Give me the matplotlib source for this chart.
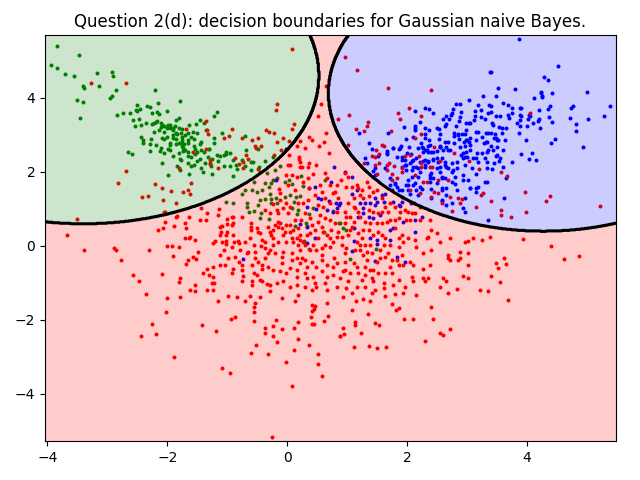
import numpy as np
import matplotlib
matplotlib.use("Agg")
import matplotlib.pyplot as plt

# points, (x, y)
green_points = [
(-3.84,5.39),(-3.47,5.16),(-3.94,4.90),(-3.84,4.80),(-3.70,4.65),(-3.56,4.60),(-3.18,4.67),(-2.92,4.71),(-2.90,4.59),
(-3.40,4.31),(-3.39,4.27),(-3.14,4.32),(-2.86,4.22),(-2.20,4.22),(-2.95,4.01),(-2.92,4.04),(-3.50,3.94),(-3.40,3.88),
(-3.45,3.46),(-2.15,3.87),(-1.78,3.91),(-2.50,3.82),(-2.33,3.77),(-2.29,3.76),(-2.52,3.68),(-2.50,3.66),(-2.45,3.70),
(-2.26,3.60),(-2.17,3.63),(-2.13,3.57),(-2.01,3.64),(-2.73,3.60),(-2.83,3.54),(-2.62,3.58),(-2.57,3.41),(-2.47,3.43),
(-2.54,3.23),(-2.44,3.28),(-2.35,3.33),(-2.26,3.29),(-2.22,3.32),(-2.19,3.35),(-2.17,3.37),(-2.10,3.31),(-2.08,3.28),
(-2.10,3.22),(-1.99,3.27),(-2.01,3.20),(-1.96,3.20),(-1.99,3.23),(-1.91,3.13),(-1.87,3.24),(-1.81,3.19),(-1.85,3.41),
(-1.81,3.47),(-1.64,3.28),(-2.22,3.09),(-2.14,3.14),(-2.06,3.09),(-1.85,3.06),(-1.83,3.02),(-1.77,3.04),(-1.66,3.05),
(-2.44,2.95),(-2.27,2.90),(-2.40,2.85),(-2.40,2.79),(-2.28,2.76),(-2.08,2.93),(-2.06,2.90),(-1.90,2.91),(-1.86,2.88),
(-1.75,2.95),(-1.75,2.86),(-1.65,2.85),(-1.76,2.79),(-1.65,2.78),(-1.95,2.77),(-1.95,2.73),(-1.85,2.75),(-1.80,2.77),
(-1.72,2.75),(-2.18,2.72),(-2.11,2.66),(-2.12,2.56),(-2.29,2.56),(-1.99,2.61),(-1.95,2.60),(-1.75,2.69),(-1.73,2.64),
(-1.74,2.57),(-1.65,2.55),(-2.66,2.54),(-2.59,2.48),(-2.06,2.50),(-1.91,2.44),(-1.81,2.51),(-1.65,2.43),(-2.09,2.25),
(-1.79,2.35),(-1.77,2.31),(-1.66,2.23),(-1.84,2.15),
(-1.17,3.62),(-1.22,3.50),(-1.46,3.41),(-1.52,3.30),(-1.39,3.33),(-1.57,3.09),(-1.50,3.05),(-1.36,3.14),(-1.22,2.92),
(-1.09,3.05),(-1.44,2.81),(-1.45,2.75),(-1.22,2.78),(-0.71,2.96),(-0.48,2.62),(-0.69,2.59),(-1.55,2.69),(-1.54,2.63),
(-1.43,2.59),(-1.38,2.54),(-1.31,2.63),(-1.30,2.63),(-1.54,2.48),(-1.32,2.40),(-1.17,2.46),(-1.12,2.44),(-1.06,2.45),
(-1.02,2.49),(-1.02,2.55),(-1.50,2.29),(-1.37,2.23),(-1.29,2.25),(-1.06,2.16),(-0.96,2.15),(-0.91,2.31),(-0.76,2.33),
(-0.61,2.27),(-0.57,2.26),(-0.36,2.30),(-0.24,2.40),(-1.44,2.10),(-1.27,2.17),(-0.84,2.08),(-0.47,2.14),(-0.11,2.17),
(-1.99,1.92),(-1.79,2.05),(-1.64,1.95),
(-0.34,1.96),(-0.16,1.83),(-0.23,1.78),(-0.03,1.74),(0.04,1.77),(0.23,1.89),(0.27,1.63),(0.09,1.68),(-0.56,1.74),
(-0.37,1.69),(-0.27,1.69),(-0.30,1.60),(-0.42,1.51),(-0.51,1.47),(-0.59,1.51),(-0.70,1.51),(-0.76,1.41),(-0.28,1.41),
(-0.37,1.26),(-0.26,1.27),(-0.19,1.29),(-0.45,1.24),(-0.48,1.11),(-0.67,1.15),(-0.90,1.15),(-1.02,1.20),(-0.67,1.05),
(-0.03,1.32),(0.05,1.38),(0.15,1.33),(0.22,1.35),(0.11,1.20),(-0.26,1.15),(-0.16,1.15),(-0.63,0.93),(-0.55,0.95),
(-0.44,0.88),(-0.30,0.72),(-0.45,0.75),(0.08,1.02),(0.19,0.97),(0.16,0.87),(0.44,1.02),(0.37,0.87),(0.77,0.95),
(0.13,0.54),(0.32,0.61),(0.33,0.54),(0.62,0.39),(0.87,0.63),(0.29,0.14),(0.37,-0.08),(0.63,1.78),
(0.94,0.48),(0.98,0.43),(1.49,-0.08),(1.05,-0.36),(0.89,0.63),
]

green_dense = [
(-2.05,3.25),(-1.95,3.28),(-1.90,3.18),(-1.75,3.15),(-1.70,3.00),(-1.60,2.95),(-1.90,3.00),(-2.00,2.95),(-1.55,2.90),(-1.70,2.60),
(-1.60,2.40),(-1.55,2.20),(-1.50,2.55),(-1.45,2.35),(-1.25,2.35),(-1.15,2.30),(-0.95,2.50),(-1.60,2.15),(-1.40,2.00),(-1.25,1.95),
(-0.85,2.20),(-0.70,2.15),(-0.60,2.05),(-0.45,2.00),(-0.20,2.05),(-0.90,1.90),
]

blue_points = [
(0.79,2.13),(-0.01,2.63),
(3.38,4.69),(3.27,4.05),(3.04,3.94),(3.19,3.81),(2.82,3.84),(2.89,3.84),(2.77,3.70),(2.75,3.60),(2.66,3.52),(2.73,3.55),
(2.71,3.42),(2.61,3.42),(2.90,3.63),(2.89,3.48),(2.87,3.38),(3.13,3.65),(3.14,3.52),(3.12,3.40),(3.24,3.68),(3.23,3.48),
(3.30,3.43),(3.37,3.81),(3.36,3.59),(2.13,3.66),(2.30,3.73),(2.37,3.69),(2.43,3.59),(2.22,3.36),(1.95,3.22),(2.14,3.25),
(2.13,3.18),(2.13,3.14),(1.68,3.04),(1.20,3.05),(2.66,3.30),(2.64,3.24),(2.82,3.23),(2.99,3.33),(3.03,3.33),(3.06,3.33),
(2.31,3.18),(2.37,3.14),(2.51,3.18),(2.53,3.17),(2.55,3.02),(2.30,3.03),(2.99,3.14),(2.92,3.03),(2.78,3.05),(2.79,2.97),
(2.86,3.02),(2.97,3.02),(3.15,3.07),(3.19,3.09),(3.32,3.04),(3.35,3.06),(2.30,2.91),(2.37,2.86),(2.54,2.88),(1.99,2.89),
(2.11,2.95),(1.37,2.78),(2.63,2.80),(2.69,2.80),(2.79,2.79),(2.87,2.88),(2.95,2.82),(3.01,2.86),(3.04,2.82),(3.16,2.86),
(3.25,2.94),(3.32,2.82),(2.24,2.78),(2.39,2.73),(2.55,2.71),(2.56,2.67),(2.65,2.68),(2.89,2.68),(2.97,2.70),(3.05,2.73),
(3.29,2.78),(3.35,2.60),(1.42,2.62),(1.66,2.56),(1.76,2.64),(1.86,2.63),(1.90,2.69),(2.03,2.67),(2.26,2.67),(2.36,2.69),
(2.30,2.60),(2.27,2.55),(1.30,2.39),(1.52,2.43),(1.67,2.48),(1.84,2.41),(1.92,2.40),(2.01,2.52),(2.07,2.49),(2.34,2.58),
(2.41,2.53),(2.50,2.57),(2.61,2.60),(2.72,2.58),(2.94,2.50),(3.17,2.50),(3.25,2.52),(3.33,2.55),(1.34,2.25),(1.46,2.10),
(1.64,2.10),(1.92,2.31),(2.08,2.30),(2.16,2.37),(2.27,2.30),(2.36,2.30),(2.43,2.34),(2.51,2.37),(2.58,2.37),(2.64,2.28),
(2.75,2.25),(2.83,2.28),(2.94,2.37),(3.00,2.41),(3.10,2.37),(3.19,2.28),(3.33,2.28),(1.99,2.19),(2.11,2.14),(2.19,2.10),
(2.30,2.19),(2.55,2.14),(2.66,2.14),(2.83,2.10),(2.97,2.19),(3.08,2.10),(3.33,2.10),
(3.87,5.59),(4.52,4.87),(3.40,4.69),(4.29,4.57),(4.36,4.48),(3.52,4.26),(3.81,4.24),(3.48,4.05),(4.12,3.99),(4.24,4.16),
(4.24,4.13),(4.25,4.06),(4.26,4.02),(4.43,4.12),(5.01,4.15),(3.61,3.85),(3.68,3.80),(3.75,3.73),(3.88,3.74),(3.91,3.74),
(3.40,3.78),(4.39,3.78),(4.35,3.71),(4.21,3.67),(4.74,3.74),(4.77,3.77),(5.39,3.77),(3.41,3.63),(3.48,3.51),(3.56,3.50),
(3.69,3.54),(3.75,3.59),(3.71,3.45),(3.88,3.55),(3.91,3.50),(3.89,3.40),(4.04,3.55),(4.05,3.50),(4.02,3.44),(4.21,3.43),
(4.19,3.38),(4.37,3.49),(4.43,3.35),(4.73,3.47),(4.83,3.29),(5.03,3.43),(5.29,3.50),(4.83,3.11),(3.42,3.33),(3.43,3.26),
(3.53,3.22),(3.59,3.18),(3.66,3.19),(3.84,3.31),(3.88,3.25),(4.01,3.25),(4.10,3.31),(4.22,3.20),(3.41,3.05),(3.47,3.02),
(3.58,3.05),(3.87,3.05),(3.45,2.91),(3.49,2.93),(3.52,2.85),(3.63,2.86),(3.98,2.87),(4.48,2.90),(4.41,2.78),(4.94,2.68),
(3.41,2.69),(3.43,2.60),(3.51,2.68),(3.61,2.58),(3.90,2.49),(4.08,2.50),(3.48,2.43),(3.50,2.46),(3.56,2.37),(3.53,2.30),
(3.46,2.23),(4.04,2.34),(4.15,2.33),(3.76,2.28),(3.60,2.14),(3.42,2.09),
(-0.19,1.77),(0.36,1.56),(0.47,1.58),(0.51,1.29),(0.56,1.26),(0.70,1.22),(0.82,1.15),(0.86,1.11),(0.66,0.97),(0.34,1.04),
(0.48,0.99),(0.21,0.60),(0.33,0.50),(0.46,0.22),(0.34,0.09),(-0.73,-0.35),(0.74,1.72),(0.76,0.93),(0.83,1.02),
(1.72,1.83),(1.80,1.69),(1.72,1.65),(1.83,1.59),(1.86,1.51),(1.75,1.50),(1.91,1.50),(2.02,1.65),(2.02,1.51),(2.05,1.41),
(2.19,1.87),(2.08,1.87),(2.02,1.78),(2.14,1.69),(2.22,2.01),(2.41,1.96),(2.55,2.01),(2.75,2.01),(2.80,1.86),(2.94,1.92),
(3.16,1.95),(2.39,1.83),(2.50,1.71),(2.58,1.83),(2.80,1.67),(3.05,1.56),(3.19,1.60),(3.33,1.74),(3.02,1.78),(2.16,1.51),
(2.25,1.53),(2.41,1.53),(2.58,1.50),(2.66,1.56),(2.41,1.29),(2.58,1.22),(2.66,1.11),(2.76,1.15),(2.94,1.02),(2.97,0.93),
(3.16,1.47),(1.91,1.33),(1.91,1.20),(1.89,1.08),(2.19,1.38),(2.07,1.15),(3.36,0.70),(3.65,1.83),(3.62,1.30),
(0.89,1.15),(1.08,1.40),(1.16,1.51),(1.22,1.15),(1.30,1.15),(1.27,1.02),(1.39,1.15),(1.47,1.11),(1.47,1.29),(1.58,1.38),
(1.64,1.41),(1.50,1.20),(1.61,1.20),(1.27,0.88),(1.19,0.79),(1.36,0.79),(1.55,0.84),(1.44,0.75),(1.77,1.20),(1.86,1.11),
(1.94,0.66),(2.14,0.70),(2.25,0.79),(1.71,0.43),(1.77,0.48),(2.14,0.37),(1.72,0.16),(1.50,0.16),(1.50,0.05),(1.39,0.21),
(1.11,0.48),(1.11,0.14),(1.08,-0.14),(1.47,-0.40),(1.83,-0.31),(1.97,-0.43),(1.08,1.87),(1.44,2.03),(0.97,2.01),(1.47,1.92),
]

blue_dense = [
(2.22,2.28),(2.30,2.32),(2.36,2.28),(2.44,2.32),(2.52,2.28),(2.11,2.32),(2.05,2.23),(1.97,2.19),(1.99,2.05),(2.08,2.05),
(2.16,2.14),(2.30,2.14),(2.50,2.10),(2.64,2.19),(2.69,2.10),(2.77,2.05),(2.39,1.92),(2.44,1.83),(2.58,1.87),(2.64,1.83),
(2.27,2.64),(2.36,2.55),(2.44,2.55),(2.55,2.68),(2.69,2.59),(2.91,2.46),(2.99,2.55),(3.05,2.59),(2.97,2.41),(3.16,2.37),
(3.30,2.37),(2.86,3.00),(2.99,2.86),(3.05,2.91),(3.33,2.82),(3.50,2.86),(2.19,2.64),(1.89,2.64),(1.77,2.64),(1.66,2.50),
(1.97,2.32),(1.91,2.14),(2.11,1.65),(1.99,1.65),(1.80,1.67),(2.22,1.60),(2.39,1.74),(2.58,1.56),(2.75,1.74),(2.94,1.78),
(3.16,1.56),(3.30,1.74),(3.05,1.56),(2.83,1.51),(2.66,1.38),(2.58,1.24),(2.97,1.29),
]

red_points = [
(-3.27,4.39),(-2.69,4.41),(-1.68,3.16),(-1.80,2.10),
(0.08,5.32),(0.65,4.32),(0.57,3.83),(0.52,3.50),(-0.17,3.84),(-0.19,3.68),(0.85,3.42),(0.12,3.30),(0.09,3.15),(0.65,3.06),
(0.62,2.81),(0.54,2.71),(0.37,2.94),(0.42,2.86),(0.22,2.84),(0.17,2.69),(0.30,2.65),(0.03,2.83),(-0.07,2.91),(-0.17,2.82),
(-0.10,2.60),(-0.21,3.04),(-0.30,3.09),(-0.35,3.14),(-0.43,2.69),(-0.49,2.93),(-0.58,2.87),(-0.54,2.69),(-0.52,2.66),
(-0.75,2.93),(-0.92,3.16),(-0.97,2.97),(-1.05,2.93),(-1.35,3.37),(-1.34,3.12),(-1.32,3.03),(-1.36,2.62),(-1.57,2.55),
(-1.28,2.31),(-1.28,2.22),(-0.87,2.37),(-0.68,2.45),(-0.65,2.34),(-0.73,2.27),(-0.80,2.21),(-0.22,2.47),(-1.15,2.10),
(-0.73,2.10),(-0.48,2.09),(0.03,2.45),(0.20,2.41),(0.20,2.34),(0.22,2.26),(0.02,2.20),(0.05,2.20),(0.37,2.25),(0.49,2.19),
(0.70,2.50),(0.22,2.13),(0.25,2.13),(0.35,2.12),
(0.97,5.11),(1.16,4.76),(1.69,4.26),(2.40,4.21),(2.03,3.74),(1.85,3.59),(1.89,3.43),(2.24,3.52),(1.04,3.54),(1.35,3.35),
(1.34,3.23),(1.29,3.10),(1.15,3.15),(1.73,3.10),(2.24,3.03),(2.13,2.93),(1.02,2.74),(1.58,2.74),(1.61,2.71),(1.49,2.58),
(1.53,2.49),(1.41,2.44),(1.46,2.41),(2.46,2.68),(2.79,2.50),(1.97,2.44),(2.06,2.46),(2.20,2.44),(1.29,2.24),(1.46,2.20),
(1.54,2.25),(1.70,2.25),(1.66,2.18),(1.78,2.17),(2.24,2.23),(2.24,2.14),(2.55,2.29),(3.04,2.29),(1.92,2.11),(2.39,2.13),
(2.42,2.13),(3.21,2.09),(4.06,3.60),
(-2.69,2.03),(-2.82,1.71),(-2.20,1.68),(-2.08,1.56),(-1.93,1.49),(-1.73,1.47),(-1.65,1.50),(-1.62,1.41),(-2.42,1.33),
(-2.32,1.36),(-2.07,1.25),(-1.86,1.17),(-2.06,0.91),(-2.04,0.92),(-1.84,0.82),(-1.86,0.77),(-3.50,0.73),(-1.64,0.77),
(-2.03,0.64),(-1.71,0.62),(-1.89,0.55),(-1.68,0.49),(-2.16,0.44),(-2.07,0.48),(-3.68,0.29),(-1.71,0.22),(-1.63,0.22),
(-3.39,-0.11),(-2.89,-0.05),(-2.85,-0.10),(-2.30,-0.10),(-2.01,0.0),(-1.92,0.01),(-1.80,-0.02),(-2.77,-0.39),(-1.90,-0.26),
(-1.65,-0.37),(-1.69,-0.48),(-2.57,-0.78),(-2.47,-0.94),(-2.08,-0.76),(-1.78,-0.87),(-1.80,-0.98),(-2.35,-1.31),(-2.01,-1.40),
(-1.79,-1.39),(-1.62,-1.20),
(-1.60,1.71),(-1.44,1.02),(-1.33,0.88),(-1.45,0.70),(-1.36,0.70),(-1.14,0.99),(-1.15,0.84),(-1.01,0.73),(-0.92,0.77),
(-0.90,0.79),(-1.09,0.54),(-1.12,0.50),(-1.11,0.39),(-1.12,0.30),(-0.92,0.57),(-0.90,0.61),(-0.76,0.77),(-1.01,0.59),
(-1.01,0.39),(-1.02,0.29),(-1.20,0.13),(-1.24,0.07),(-1.09,0.12),(-1.02,0.14),(-1.02,0.05),(-0.90,0.30),(-0.88,0.12),
(-0.82,0.14),(-0.80,0.07),(-0.92,-0.02),(-0.61,0.61),(-0.61,0.52),(-0.61,0.43),(-0.51,0.48),(-0.48,0.39),(-0.45,0.34),
(-0.70,0.12),(-0.62,0.21),(-0.42,0.16),(-0.44,0.01),(-0.37,-0.06),(-0.31,-0.20),(-0.28,0.39),(-0.23,0.43),(-0.20,0.57),
(-0.15,0.66),(-0.12,0.61),(-0.26,0.30),(-0.23,0.21),(-0.03,0.39),(0.05,0.57),(0.05,0.39),(0.10,0.43),(0.19,0.48),(-0.06,0.30),
(0.08,0.21),(0.16,0.21),(0.22,0.30),(-0.01,1.92),(0.08,1.92),(0.16,1.86),(0.44,1.95),(0.63,1.96),(0.66,1.83),(0.72,1.65),
(-0.13,1.53),(0.13,1.51),(0.36,1.56),(0.47,1.38),(0.58,1.47),(0.80,1.47),(-0.23,1.13),(-0.12,1.24),(-0.01,1.15),(0.27,1.15),
(0.60,1.06),(0.83,0.93),(-0.15,0.88),(0.02,0.88),(0.38,0.75),(0.55,0.84),(0.72,0.70),(0.41,0.57),(0.58,0.52),(0.74,0.43),
(0.83,0.25),(0.72,0.21),(0.52,0.21),(0.33,0.30),(0.27,0.12),(0.19,0.03),(0.22,-0.11),(0.49,-0.11),(0.72,-0.02),(-1.54,0.16),
(-1.62,0.23),(-1.48,-0.15),(-1.57,-0.29),(-1.52,-0.36),(-0.98,-0.33),(-1.04,-0.51),(-1.12,-0.51),(-1.23,-0.58),(-1.34,-0.63),
(-1.40,-0.74),(-1.31,-0.78),(-0.87,-0.31),(-0.81,-0.42),(-0.76,-0.51),(-0.90,-0.63),(-0.92,-0.74),(-0.76,-0.65),(-0.67,-0.20),
(-0.53,-0.15),(-0.53,-0.33),(-0.48,-0.42),(-0.59,-0.51),(-0.42,-0.63),(-0.56,-0.74),(-0.51,-0.78),(-0.31,-0.56),(-0.28,-0.12),
(-0.09,-0.29),(-0.09,-0.47),(-0.12,-0.69),(0.05,-0.60),(0.08,-0.38),(0.25,-0.33),(0.30,-0.38),(0.38,-0.11),(0.58,-0.24),
(0.78,-0.33),(0.49,-0.56),(0.58,-0.69),(0.66,-0.83),(0.33,-0.87),(0.16,-0.83),(-0.28,-1.05),(-1.23,-0.83),(-1.26,-1.01),
(-1.22,-0.99),(-1.54,-1.05),(-1.33,-1.19),(-1.54,-1.23),(-0.73,-0.81),(-0.76,-0.96),(-0.59,-0.96),(-0.59,-1.05),(-0.42,-0.96),
(-0.34,-1.03),(-0.06,-0.96),(-0.28,-1.23),(0.05,-1.10),(0.30,-1.10),(0.49,-1.10),(0.66,-1.19),(0.41,-1.19),(0.83,-1.10),
(-1.23,-1.19),(-0.98,-1.35),(-0.84,-1.37),(-1.15,-1.50),(-0.62,-1.35),(-0.45,-1.37),(-0.70,-1.50),(-0.53,-1.55),(-0.09,-1.41),
(0.13,-1.50),(0.19,-1.32),(0.41,-1.59),(0.47,-1.62),(0.66,-1.53),(-0.55,-1.66),(0.45,-1.71),
(0.90,1.78),(1.02,1.86),(1.16,1.65),(1.08,1.60),(1.33,1.74),(1.50,1.95),(0.97,1.98),(1.22,1.38),(1.27,1.29),(1.36,1.35),
(1.44,1.47),(1.11,1.29),(1.02,1.15),(1.13,1.02),(0.97,0.93),(1.05,0.79),(1.58,1.29),(1.72,1.15),(1.58,0.93),(1.69,0.93),
(1.80,1.06),(1.89,0.93),(2.02,0.93),(2.13,0.88),(2.22,1.06),(1.22,0.79),(1.30,0.66),(1.52,0.88),(1.50,0.61),(1.72,0.70),
(1.80,0.70),(2.05,0.69),(2.22,0.70),(2.39,0.70),(0.97,0.61),(1.08,0.52),(1.27,0.43),(1.52,0.39),(1.80,0.48),(1.91,0.30),
(2.02,0.21),(2.13,0.16),(2.36,0.25),(2.41,0.43),(2.50,0.36),(2.72,0.21),(0.91,0.25),(1.02,0.30),(1.16,0.12),(1.30,0.03),
(1.25,0.21),(1.64,0.21),(1.72,0.03),(1.94,0.12),(2.33,0.21),(2.55,0.12),(2.97,0.12),(3.02,0.14),(3.11,0.22),(3.25,0.16),
(0.91,0.03),(0.99,-0.06),(1.13,-0.11),(1.22,-0.11),(1.33,-0.15),(1.55,-0.11),(1.69,-0.20),(1.91,-0.24),(2.16,-0.02),(2.27,-0.18),
(2.41,-0.11),(2.69,-0.24),(2.69,-0.33),(2.89,-0.15),(3.02,-0.20),(2.72,-0.38),(2.89,-0.33),(3.02,-0.51),(2.86,-0.38),(0.97,-0.42),
(1.16,-0.56),(1.33,-0.38),(1.50,-0.42),(1.64,-0.29),(1.83,-0.38),(2.05,-0.42),(2.11,-0.51),(2.27,-0.63),(2.39,-0.51),(0.94,-0.69),
(0.97,-0.65),(1.19,-0.74),(1.39,-0.65),(1.64,-0.74),(1.75,-0.74),(1.86,-0.51),(2.08,-0.83),(2.27,-0.87),(2.36,-0.87),(2.61,-0.87),
(2.66,-0.96),(2.94,-0.81),(3.02,-0.87),(0.89,-0.87),(1.02,-0.96),(1.25,-0.92),(1.41,-0.87),(1.44,-0.96),(1.61,-1.01),(1.86,-0.92),
(2.11,-0.96),(1.97,-1.10),(2.30,-0.96),(2.55,-1.10),(2.83,-1.17),(3.22,-1.19),(3.36,-1.23),(0.94,-1.37),(1.08,-1.28),(1.16,-1.12),
(1.27,-1.44),(1.41,-1.28),(1.47,-1.19),(1.64,-1.35),(1.80,-1.30),(1.94,-1.28),(2.16,-1.33),(2.41,-1.64),(2.69,-1.26),(1.15,-1.50),
(1.39,-1.50),(1.75,-1.58),(1.86,-1.68),
(1.66,2.04),(1.75,1.95),(1.92,2.01),(1.83,1.83),(2.14,1.92),(2.27,1.74),(2.34,1.74),(2.52,1.78),(2.69,1.78),(1.75,1.78),(2.22,1.42),
(2.05,1.51),(2.45,1.45),(2.52,1.42),(2.72,1.33),(2.86,1.29),(3.27,1.44),(3.24,1.38),(2.92,1.26),(3.16,1.06),(2.12,1.15),(2.58,1.15),
(2.75,0.95),(2.89,1.15),(2.41,1.33),
(3.57,2.01),(3.67,1.90),(3.97,1.46),(4.39,1.34),(4.33,1.22),(5.22,1.08),(3.40,1.21),(3.57,0.98),(3.57,0.84),(3.74,0.77),(3.99,0.91),
(3.93,0.18),(4.40,0.0),(3.62,-0.32),(3.48,-0.45),(3.66,-0.49),(3.52,-0.60),(3.40,-0.82),(3.56,-0.98),(3.68,-1.47),(4.63,-0.35),
(4.87,-0.27),(3.39,0.25),
(-2.02,-1.79),(-2.26,-2.11),(-2.18,-2.37),(-2.43,-2.43),(-1.88,-3.00),
(-0.56,-1.79),(-0.94,-1.98),(-0.87,-1.93),(-1.42,-2.14),(-1.18,-2.31),(-0.56,-2.03),(-0.18,-1.99),(-0.36,-2.21),(-0.23,-2.16),
(-0.36,-2.34),(-0.09,-2.25),(-0.23,-2.43),(-0.16,-2.59),(-0.52,-2.68),(-0.60,-2.88),(-0.32,-2.92),(-1.08,-3.29),(-0.95,-3.44),
(-0.25,-5.17),(-0.01,-3.14),(0.08,-3.78),(0.42,-1.76),(0.40,-1.93),(0.68,-1.89),(0.61,-2.04),(0.19,-2.06),(0.42,-2.12),(0.45,-2.11),
(0.12,-2.21),(0.88,-2.42),(0.18,-2.51),(0.36,-2.67),(0.12,-2.81),(0.52,-2.92),(0.52,-3.18),(0.59,-3.52),
(1.09,-1.74),(1.35,-1.85),(1.82,-1.74),(1.14,-2.05),(1.14,-2.14),(1.46,-2.08),(1.53,-2.14),(1.95,-1.98),(2.10,-1.98),(2.43,-1.98),
(2.72,-2.24),(0.94,-2.23),(0.95,-2.39),(0.89,-2.43),(1.24,-2.35),(2.55,-2.36),(2.61,-2.40),(2.30,-2.58),(1.12,-2.73),(1.36,-2.70),
(1.50,-2.75),(1.65,-2.74),
]

red_dense = [
(0.21,0.16),(0.30,0.03),(0.10,0.12),(-0.01,0.12),(-0.15,0.12),(-0.23,0.03),(-0.37,0.12),(-0.56,0.03),(-0.65,-0.15),(-0.78,-0.11),
(-1.06,-0.11),(-1.12,-0.24),(-0.20,-0.20),(-0.06,-0.15),(0.08,-0.20),(0.16,-0.33),(0.22,-0.47),(0.33,-0.56),(0.41,-0.42),(0.58,-0.38),
(0.66,-0.51),(0.77,-0.56),(0.83,-0.47),(-0.37,-0.33),(-0.42,-0.51),(-0.23,-0.65),(-0.01,-0.74),(0.16,-0.65),(0.30,-0.74),(0.44,-0.83),
(0.63,-1.01),(0.77,-0.78),(-0.45,-0.92),(-0.17,-1.01),(0.16,-1.05),(0.47,-1.01),(-0.15,0.52),(-0.31,0.52),(-0.09,0.48),(-0.01,0.57),
(0.13,0.70),(0.24,0.70),(0.30,0.88),(0.52,0.66),(0.63,0.75),(0.80,0.61),(0.60,0.39),(0.66,0.30),(0.47,0.43),(0.38,0.34),(0.85,0.39),
(0.77,0.12),(0.63,0.03),(0.44,0.03),(0.58,-0.06),(-0.37,0.97),(-0.17,0.97),(-0.06,1.02),(-0.29,0.88),(0.05,1.06),(0.19,1.15),(0.35,1.24),
(0.52,1.11),(0.72,1.15),(-0.12,1.42),(0.02,1.65),(0.27,1.74),(0.35,1.83),(0.55,1.65),(0.83,1.65),(0.85,1.29),(0.77,1.42),(0.63,1.29),
(0.99,1.60),(1.19,1.56),(1.25,1.51),(1.36,1.60),(1.50,1.51),(1.11,1.06),(1.19,0.93),(1.36,0.97),(1.44,0.93),(1.64,1.06),(1.97,0.97),
(2.08,0.88),(0.99,0.79),(1.11,0.66),(1.39,0.61),(1.58,0.61),(1.66,0.66),(1.86,0.75),(1.99,0.70),(1.05,0.43),(1.19,0.34),(1.36,0.43),
(1.44,0.30),(1.58,0.30),(1.86,0.21),(1.22,0.03),(1.39,0.03),(1.61,0.03),(1.86,-0.02),(0.97,-0.20),(1.27,-0.24),(1.41,-0.20),(1.55,-0.33),
(1.75,-0.38),(1.11,-0.47),(1.30,-0.56),(1.44,-0.65),(1.72,-0.56),(1.94,-0.51),(1.05,-0.74),(1.30,-0.78),(1.52,-0.74),(0.99,-1.14),
(1.30,-1.10),(1.61,-1.14),(1.77,-1.05),
]

# decision regions, estimated: centre x, centre y, half width, half height
green_region = (-3.40, 4.60, 3.93, 4.00)
blue_region = (4.28, 4.13, 3.59, 3.73)

xlim = (-4.04, 5.49)
ylim = (-5.27, 5.70)


def inside(xx, yy, region):
    cx, cy, a, b = region
    return ((xx - cx) / a) ** 2 + ((yy - cy) / b) ** 2 < 1


fig, ax = plt.subplots(figsize=(6.4, 4.8), dpi=100)
fig.subplots_adjust(left=45 / 640, right=616 / 640, top=1 - 35 / 480, bottom=1 - 441 / 480)

for pts, colour in [(green_points + green_dense, "green"),
                    (blue_points + blue_dense, "blue"),
                    (red_points + red_dense, "red")]:
    arr = np.array(pts)
    ax.scatter(arr[:, 0], arr[:, 1], s=3.5, color=colour)

# regions go over the points, that is why the dots look tinted
xx, yy = np.meshgrid(np.linspace(*xlim, 800), np.linspace(*ylim, 800))
labels = np.ones(xx.shape)
labels[inside(xx, yy, green_region)] = 0
labels[inside(xx, yy, blue_region)] = 2
ax.contourf(xx, yy, labels, levels=[-0.5, 0.5, 1.5, 2.5], colors=["green", "red", "blue"], alpha=0.2)
ax.contour(xx, yy, labels, levels=[0.5, 1.5], colors="k", linewidths=2.2)

ax.set_xlim(xlim)
ax.set_ylim(ylim)
ax.set_title("Question 2(d): decision boundaries for Gaussian naive Bayes.")
fig.savefig("out.png", dpi=100)
